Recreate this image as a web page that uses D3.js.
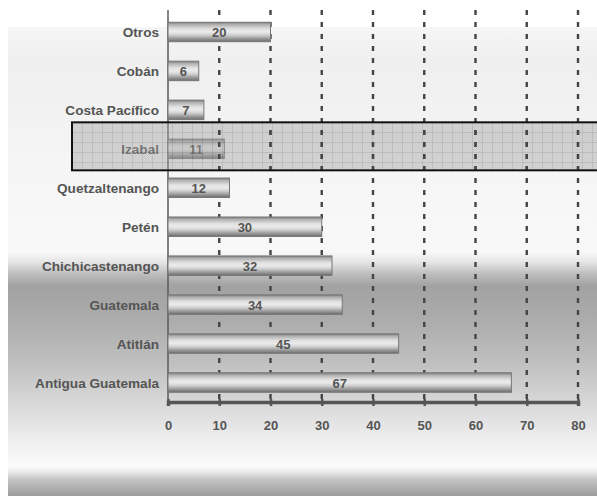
<!DOCTYPE html>
<html>
<head>
<meta charset="utf-8">
<script src="https://cdn.jsdelivr.net/npm/d3@7"></script>
<style>
  html, body { margin: 0; padding: 0; background: #fff; }
  svg { display: block; }
  text { font-family: "Liberation Sans", Arial, sans-serif; font-weight: bold; }
</style>
</head>
<body>
<script>
// Visitors by destination (top to bottom)
const categories = ["Otros", "Cobán", "Costa Pacífico", "Izabal", "Quetzaltenango",
                    "Petén", "Chichicastenango", "Guatemala", "Atitlán", "Antigua Guatemala"];
const values = [20, 6, 7, 11, 12, 30, 32, 34, 45, 67];
const tickValues = [0, 10, 20, 30, 40, 50, 60, 70, 80];
const highlighted = ["Izabal"];

const W = 597, H = 496;
const svg = d3.select("body").append("svg").attr("width", W).attr("height", H);
const defs = svg.append("defs");

// Panel background: soft white with a grey band in the middle and a dark foot
const bg = defs.append("linearGradient").attr("id", "panelGrad")
  .attr("gradientUnits", "userSpaceOnUse").attr("x1", 0).attr("x2", 0).attr("y1", 27).attr("y2", 496);
[[27, "#f6f6f6"], [60, "#efefef"], [200, "#f7f7f7"], [252, "#f8f8f8"], [262, "#e6e6e6"],
 [274, "#bdbdbd"], [286, "#a2a2a2"], [320, "#acacac"], [360, "#bebebe"], [400, "#d6d6d6"],
 [440, "#eeeeee"], [466, "#fbfbfb"], [472, "#eaeaea"], [480, "#c2c2c2"], [496, "#9c9c9c"]]
  .forEach(([y, c]) => bg.append("stop").attr("offset", (y - 27) / (496 - 27)).attr("stop-color", c));

svg.append("rect").attr("x", 8).attr("y", 27).attr("width", W - 8).attr("height", H - 27)
  .attr("fill", "url(#panelGrad)");

// Cylinder-like shading for the bars
const barGrad = defs.append("linearGradient").attr("id", "barGrad")
  .attr("x1", 0).attr("x2", 0).attr("y1", 0).attr("y2", 1);
[[0, "#7c7c7c"], [0.12, "#b0b0b0"], [0.35, "#e2e2e2"], [0.5, "#eaeaea"], [0.65, "#d2d2d2"],
 [0.85, "#979797"], [1, "#6c6c6c"]]
  .forEach(([o, c]) => barGrad.append("stop").attr("offset", o).attr("stop-color", c));

// Dithered grid fill for the highlight band
const dither = defs.append("pattern").attr("id", "dither")
  .attr("patternUnits", "userSpaceOnUse").attr("width", 2).attr("height", 2);
dither.append("rect").attr("width", 2).attr("height", 2).attr("fill", "#b0b0b0");
dither.append("rect").attr("width", 1).attr("height", 1).attr("fill", "#989898");
dither.append("rect").attr("x", 1).attr("y", 1).attr("width", 1).attr("height", 1).attr("fill", "#989898");
const hatch = defs.append("pattern").attr("id", "hatch")
  .attr("patternUnits", "userSpaceOnUse").attr("width", 10).attr("height", 10)
  .attr("x", 72).attr("y", 122);
hatch.append("rect").attr("width", 10).attr("height", 10).attr("fill", "url(#dither)");
hatch.append("rect").attr("width", 10).attr("height", 1).attr("fill", "#7a7a7a");
hatch.append("rect").attr("width", 1).attr("height", 10).attr("fill", "#7a7a7a");

// Scales
const x = d3.scaleLinear().domain([0, 80]).range([168, 578]);
const y = d3.scaleBand().domain(categories).range([12.5, 402]).paddingInner(0.5).paddingOuter(0.25);

// Dashed vertical gridlines
const grid = svg.append("g");
function drawGrid(g) {
  g.selectAll("line").data(tickValues.filter(d => d > 0)).join("line")
    .attr("x1", d => x(d)).attr("x2", d => x(d))
    .attr("y1", 10).attr("y2", 402)
    .attr("stroke", "#444").attr("stroke-width", 2.4)
    .attr("stroke-dasharray", "5,7");
}
drawGrid(grid);

// Y axis line
svg.append("line").attr("x1", x(0)).attr("x2", x(0)).attr("y1", 10).attr("y2", 402)
  .attr("stroke", "#5a5a5a").attr("stroke-width", 1.5);

// Bars
const bars = svg.append("g");
bars.selectAll("rect").data(categories).join("rect")
  .attr("x", x(0))
  .attr("y", d => y(d))
  .attr("width", (d, i) => x(values[i]) - x(0))
  .attr("height", y.bandwidth())
  .attr("fill", "url(#barGrad)")
  .attr("stroke", "#777").attr("stroke-width", 1);

// Value labels inside bars
bars.selectAll("text").data(categories).join("text")
  .attr("x", (d, i) => (x(0) + x(values[i])) / 2)
  .attr("y", d => y(d) + y.bandwidth() / 2 + 5)
  .attr("text-anchor", "middle")
  .attr("font-size", 13).attr("fill", "#555")
  .text((d, i) => values[i]);

// Category labels
svg.append("g").selectAll("text").data(categories).join("text")
  .attr("x", 159)
  .attr("y", d => y(d) + y.bandwidth() / 2 + 5)
  .attr("text-anchor", "end")
  .attr("font-size", 13.6).attr("fill", "#555")
  .text(d => d);

// X axis
const xAxis = svg.append("g").attr("transform", "translate(0,402)")
  .call(d3.axisBottom(x).tickValues(tickValues).tickSize(4).tickPadding(15));
xAxis.select(".domain").attr("stroke", "#555").attr("stroke-width", 3.5);
xAxis.selectAll(".tick line").attr("stroke", "#555").attr("stroke-width", 2.5).attr("y1", -3);
xAxis.selectAll(".tick text").attr("font-size", 13).attr("fill", "#555")
  .attr("font-family", "Liberation Sans, Arial, sans-serif").attr("font-weight", "bold");

// Highlight band over the selected destination
highlighted.forEach(name => {
  const mid = y(name) + y.bandwidth() / 2;
  const top = mid - 26.5, h = 48;
  svg.append("rect")
    .attr("x", 72).attr("y", top).attr("width", W - 72 + 10).attr("height", h)
    .attr("fill", "url(#hatch)").attr("fill-opacity", 0.45);
  const clip = defs.append("clipPath").attr("id", "bandClip");
  clip.append("rect").attr("x", 0).attr("y", top).attr("width", W).attr("height", h);
  drawGrid(svg.append("g").attr("clip-path", "url(#bandClip)"));
  svg.append("rect")
    .attr("x", 72).attr("y", top).attr("width", W - 72 + 10).attr("height", h)
    .attr("fill", "none").attr("stroke", "#111").attr("stroke-width", 2);
});
</script>
</body>
</html>
